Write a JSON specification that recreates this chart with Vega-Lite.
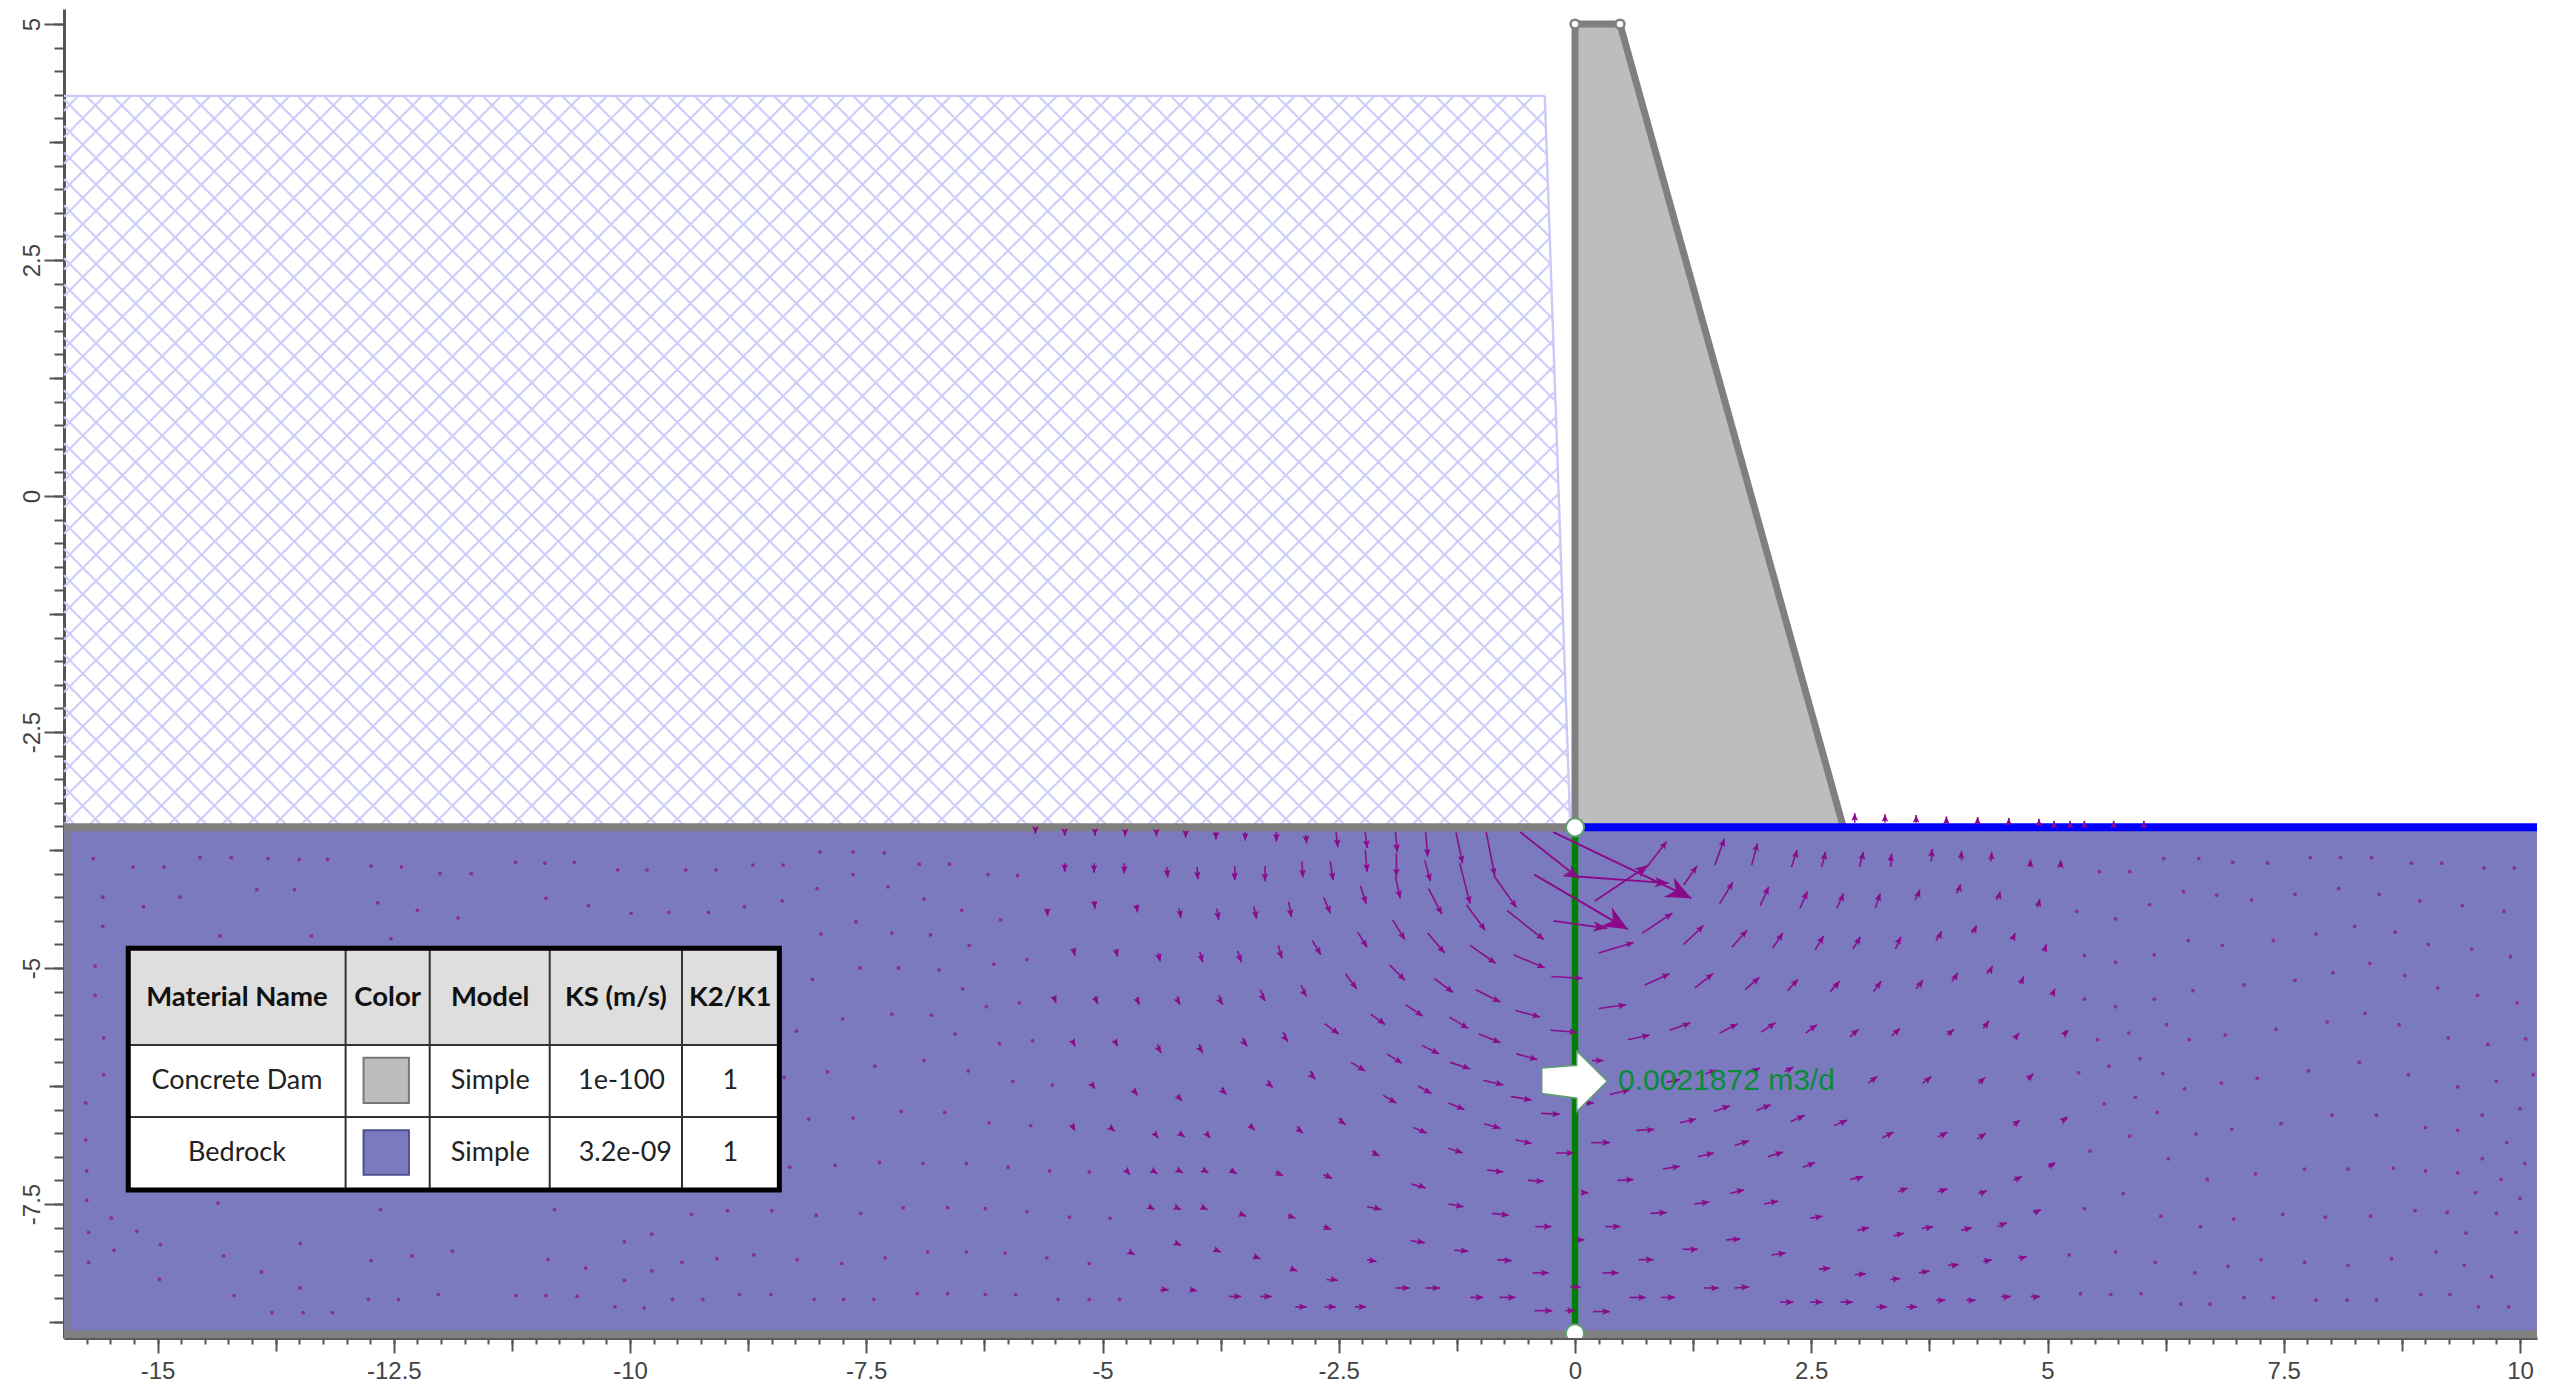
{"$schema":"https://vega.github.io/schema/vega-lite/v6.json","width":2473,"height":1329,"autosize":{"type":"none"},"padding":{"left":64,"top":9,"right":14,"bottom":50},"background":"white","config":{"view":{"stroke":null}},
"datasets":{
"bedrock":[{"x":-15.99,"x2":10.18,"y":-8.88,"y2":-3.51}],
"hatchEdge":[{"x":-15.99,"y":4.24,"x2":-0.32,"y2":4.24},{"x":-0.32,"y":4.24,"x2":-0.05,"y2":-3.5}],
"hatch":[{"x":-0.34,"y":-3.5,"x2":-0.06,"y2":-3.22},{"x":-0.62,"y":-3.5,"x2":-0.07,"y2":-2.95},{"x":-0.9,"y":-3.5,"x2":-0.08,"y2":-2.68},{"x":-1.18,"y":-3.5,"x2":-0.09,"y2":-2.41},{"x":-1.46,"y":-3.5,"x2":-0.1,"y2":-2.14},{"x":-1.74,"y":-3.5,"x2":-0.11,"y2":-1.87},{"x":-2.02,"y":-3.5,"x2":-0.12,"y2":-1.6},{"x":-2.3,"y":-3.5,"x2":-0.13,"y2":-1.33},{"x":-2.58,"y":-3.5,"x2":-0.14,"y2":-1.06},{"x":-2.86,"y":-3.5,"x2":-0.14,"y2":-0.78},{"x":-3.14,"y":-3.5,"x2":-0.15,"y2":-0.51},{"x":-3.42,"y":-3.5,"x2":-0.16,"y2":-0.24},{"x":-3.7,"y":-3.5,"x2":-0.17,"y2":0.03},{"x":-3.98,"y":-3.5,"x2":-0.18,"y2":0.3},{"x":-4.26,"y":-3.5,"x2":-0.19,"y2":0.57},{"x":-4.54,"y":-3.5,"x2":-0.2,"y2":0.84},{"x":-4.82,"y":-3.5,"x2":-0.21,"y2":1.11},{"x":-5.1,"y":-3.5,"x2":-0.22,"y2":1.38},{"x":-5.38,"y":-3.5,"x2":-0.23,"y2":1.65},{"x":-5.66,"y":-3.5,"x2":-0.24,"y2":1.92},{"x":-5.94,"y":-3.5,"x2":-0.25,"y2":2.19},{"x":-6.22,"y":-3.5,"x2":-0.26,"y2":2.46},{"x":-6.5,"y":-3.5,"x2":-0.27,"y2":2.73},{"x":-6.78,"y":-3.5,"x2":-0.28,"y2":3.0},{"x":-7.06,"y":-3.5,"x2":-0.29,"y2":3.27},{"x":-7.34,"y":-3.5,"x2":-0.3,"y2":3.54},{"x":-7.62,"y":-3.5,"x2":-0.31,"y2":3.81},{"x":-7.9,"y":-3.5,"x2":-0.31,"y2":4.09},
{"x":-8.18,"y":-3.5,"x2":-0.44,"y2":4.24},{"x":-8.46,"y":-3.5,"x2":-0.72,"y2":4.24},{"x":-8.74,"y":-3.5,"x2":-1.0,"y2":4.24},{"x":-9.02,"y":-3.5,"x2":-1.28,"y2":4.24},{"x":-9.3,"y":-3.5,"x2":-1.56,"y2":4.24},{"x":-9.58,"y":-3.5,"x2":-1.84,"y2":4.24},{"x":-9.86,"y":-3.5,"x2":-2.12,"y2":4.24},{"x":-10.14,"y":-3.5,"x2":-2.4,"y2":4.24},{"x":-10.42,"y":-3.5,"x2":-2.68,"y2":4.24},{"x":-10.7,"y":-3.5,"x2":-2.96,"y2":4.24},{"x":-10.98,"y":-3.5,"x2":-3.24,"y2":4.24},{"x":-11.26,"y":-3.5,"x2":-3.52,"y2":4.24},{"x":-11.54,"y":-3.5,"x2":-3.8,"y2":4.24},{"x":-11.82,"y":-3.5,"x2":-4.08,"y2":4.24},{"x":-12.1,"y":-3.5,"x2":-4.36,"y2":4.24},{"x":-12.38,"y":-3.5,"x2":-4.64,"y2":4.24},{"x":-12.66,"y":-3.5,"x2":-4.92,"y2":4.24},{"x":-12.94,"y":-3.5,"x2":-5.2,"y2":4.24},{"x":-13.22,"y":-3.5,"x2":-5.48,"y2":4.24},{"x":-13.5,"y":-3.5,"x2":-5.76,"y2":4.24},{"x":-13.78,"y":-3.5,"x2":-6.04,"y2":4.24},{"x":-14.06,"y":-3.5,"x2":-6.32,"y2":4.24},{"x":-14.34,"y":-3.5,"x2":-6.6,"y2":4.24},{"x":-14.62,"y":-3.5,"x2":-6.88,"y2":4.24},{"x":-14.9,"y":-3.5,"x2":-7.16,"y2":4.24},{"x":-15.18,"y":-3.5,"x2":-7.44,"y2":4.24},{"x":-15.46,"y":-3.5,"x2":-7.72,"y2":4.24},{"x":-15.74,"y":-3.5,"x2":-8.0,"y2":4.24},
{"x":-15.99,"y":-3.48,"x2":-8.28,"y2":4.24},{"x":-15.99,"y":-3.2,"x2":-8.56,"y2":4.24},{"x":-15.99,"y":-2.92,"x2":-8.84,"y2":4.24},{"x":-15.99,"y":-2.64,"x2":-9.12,"y2":4.24},{"x":-15.99,"y":-2.36,"x2":-9.4,"y2":4.24},{"x":-15.99,"y":-2.08,"x2":-9.68,"y2":4.24},{"x":-15.99,"y":-1.8,"x2":-9.96,"y2":4.24},{"x":-15.99,"y":-1.52,"x2":-10.24,"y2":4.24},{"x":-15.99,"y":-1.24,"x2":-10.52,"y2":4.24},{"x":-15.99,"y":-0.96,"x2":-10.8,"y2":4.24},{"x":-15.99,"y":-0.68,"x2":-11.08,"y2":4.24},{"x":-15.99,"y":-0.4,"x2":-11.36,"y2":4.24},{"x":-15.99,"y":-0.12,"x2":-11.64,"y2":4.24},{"x":-15.99,"y":0.16,"x2":-11.92,"y2":4.24},{"x":-15.99,"y":0.44,"x2":-12.2,"y2":4.24},{"x":-15.99,"y":0.72,"x2":-12.48,"y2":4.24},{"x":-15.99,"y":1.0,"x2":-12.76,"y2":4.24},{"x":-15.99,"y":1.28,"x2":-13.04,"y2":4.24},{"x":-15.99,"y":1.56,"x2":-13.32,"y2":4.24},{"x":-15.99,"y":1.84,"x2":-13.6,"y2":4.24},{"x":-15.99,"y":2.12,"x2":-13.88,"y2":4.24},{"x":-15.99,"y":2.4,"x2":-14.16,"y2":4.24},{"x":-15.99,"y":2.68,"x2":-14.44,"y2":4.24},{"x":-15.99,"y":2.96,"x2":-14.72,"y2":4.24},{"x":-15.99,"y":3.24,"x2":-15.0,"y2":4.24},{"x":-15.99,"y":3.52,"x2":-15.28,"y2":4.24},{"x":-15.99,"y":3.8,"x2":-15.56,"y2":4.24},{"x":-15.99,"y":4.08,"x2":-15.84,"y2":4.24},
{"x":-15.99,"y":-3.36,"x2":-15.86,"y2":-3.5},{"x":-15.99,"y":-3.08,"x2":-15.58,"y2":-3.5},{"x":-15.99,"y":-2.8,"x2":-15.3,"y2":-3.5},{"x":-15.99,"y":-2.52,"x2":-15.02,"y2":-3.5},{"x":-15.99,"y":-2.24,"x2":-14.74,"y2":-3.5},{"x":-15.99,"y":-1.96,"x2":-14.46,"y2":-3.5},{"x":-15.99,"y":-1.68,"x2":-14.18,"y2":-3.5},{"x":-15.99,"y":-1.4,"x2":-13.9,"y2":-3.5},{"x":-15.99,"y":-1.12,"x2":-13.62,"y2":-3.5},{"x":-15.99,"y":-0.84,"x2":-13.34,"y2":-3.5},{"x":-15.99,"y":-0.56,"x2":-13.06,"y2":-3.5},{"x":-15.99,"y":-0.28,"x2":-12.78,"y2":-3.5},{"x":-15.99,"y":0.0,"x2":-12.5,"y2":-3.5},{"x":-15.99,"y":0.28,"x2":-12.22,"y2":-3.5},{"x":-15.99,"y":0.56,"x2":-11.94,"y2":-3.5},{"x":-15.99,"y":0.84,"x2":-11.66,"y2":-3.5},{"x":-15.99,"y":1.12,"x2":-11.38,"y2":-3.5},{"x":-15.99,"y":1.4,"x2":-11.1,"y2":-3.5},{"x":-15.99,"y":1.68,"x2":-10.82,"y2":-3.5},{"x":-15.99,"y":1.96,"x2":-10.54,"y2":-3.5},{"x":-15.99,"y":2.24,"x2":-10.26,"y2":-3.5},{"x":-15.99,"y":2.52,"x2":-9.98,"y2":-3.5},{"x":-15.99,"y":2.8,"x2":-9.7,"y2":-3.5},{"x":-15.99,"y":3.08,"x2":-9.42,"y2":-3.5},{"x":-15.99,"y":3.36,"x2":-9.14,"y2":-3.5},{"x":-15.99,"y":3.64,"x2":-8.86,"y2":-3.5},{"x":-15.99,"y":3.92,"x2":-8.58,"y2":-3.5},{"x":-15.99,"y":4.2,"x2":-8.3,"y2":-3.5},
{"x":-15.76,"y":4.24,"x2":-8.02,"y2":-3.5},{"x":-15.48,"y":4.24,"x2":-7.74,"y2":-3.5},{"x":-15.2,"y":4.24,"x2":-7.46,"y2":-3.5},{"x":-14.92,"y":4.24,"x2":-7.18,"y2":-3.5},{"x":-14.64,"y":4.24,"x2":-6.9,"y2":-3.5},{"x":-14.36,"y":4.24,"x2":-6.62,"y2":-3.5},{"x":-14.08,"y":4.24,"x2":-6.34,"y2":-3.5},{"x":-13.8,"y":4.24,"x2":-6.06,"y2":-3.5},{"x":-13.52,"y":4.24,"x2":-5.78,"y2":-3.5},{"x":-13.24,"y":4.24,"x2":-5.5,"y2":-3.5},{"x":-12.96,"y":4.24,"x2":-5.22,"y2":-3.5},{"x":-12.68,"y":4.24,"x2":-4.94,"y2":-3.5},{"x":-12.4,"y":4.24,"x2":-4.66,"y2":-3.5},{"x":-12.12,"y":4.24,"x2":-4.38,"y2":-3.5},{"x":-11.84,"y":4.24,"x2":-4.1,"y2":-3.5},{"x":-11.56,"y":4.24,"x2":-3.82,"y2":-3.5},{"x":-11.28,"y":4.24,"x2":-3.54,"y2":-3.5},{"x":-11.0,"y":4.24,"x2":-3.26,"y2":-3.5},{"x":-10.72,"y":4.24,"x2":-2.98,"y2":-3.5},{"x":-10.44,"y":4.24,"x2":-2.7,"y2":-3.5},{"x":-10.16,"y":4.24,"x2":-2.42,"y2":-3.5},{"x":-9.88,"y":4.24,"x2":-2.14,"y2":-3.5},{"x":-9.6,"y":4.24,"x2":-1.86,"y2":-3.5},{"x":-9.32,"y":4.24,"x2":-1.58,"y2":-3.5},{"x":-9.04,"y":4.24,"x2":-1.3,"y2":-3.5},{"x":-8.76,"y":4.24,"x2":-1.02,"y2":-3.5},{"x":-8.48,"y":4.24,"x2":-0.74,"y2":-3.5},{"x":-8.2,"y":4.24,"x2":-0.46,"y2":-3.5},{"x":-7.92,"y":4.24,"x2":-0.18,"y2":-3.5},
{"x":-7.64,"y":4.24,"x2":-0.06,"y2":-3.34},{"x":-7.36,"y":4.24,"x2":-0.07,"y2":-3.05},{"x":-7.08,"y":4.24,"x2":-0.08,"y2":-2.76},{"x":-6.8,"y":4.24,"x2":-0.09,"y2":-2.47},{"x":-6.52,"y":4.24,"x2":-0.1,"y2":-2.18},{"x":-6.24,"y":4.24,"x2":-0.11,"y2":-1.89},{"x":-5.96,"y":4.24,"x2":-0.12,"y2":-1.6},{"x":-5.68,"y":4.24,"x2":-0.13,"y2":-1.31},{"x":-5.4,"y":4.24,"x2":-0.14,"y2":-1.02},{"x":-5.12,"y":4.24,"x2":-0.15,"y2":-0.73},{"x":-4.84,"y":4.24,"x2":-0.16,"y2":-0.44},{"x":-4.56,"y":4.24,"x2":-0.17,"y2":-0.15},{"x":-4.28,"y":4.24,"x2":-0.18,"y2":0.14},{"x":-4.0,"y":4.24,"x2":-0.19,"y2":0.43},{"x":-3.72,"y":4.24,"x2":-0.2,"y2":0.72},{"x":-3.44,"y":4.24,"x2":-0.21,"y2":1.01},{"x":-3.16,"y":4.24,"x2":-0.22,"y2":1.3},{"x":-2.88,"y":4.24,"x2":-0.23,"y2":1.59},{"x":-2.6,"y":4.24,"x2":-0.24,"y2":1.88},{"x":-2.32,"y":4.24,"x2":-0.25,"y2":2.17},{"x":-2.04,"y":4.24,"x2":-0.26,"y2":2.46},{"x":-1.76,"y":4.24,"x2":-0.27,"y2":2.75},{"x":-1.48,"y":4.24,"x2":-0.28,"y2":3.04},{"x":-1.2,"y":4.24,"x2":-0.29,"y2":3.33},{"x":-0.92,"y":4.24,"x2":-0.3,"y2":3.62},{"x":-0.64,"y":4.24,"x2":-0.31,"y2":3.91}],
"damFill":[{"x":0,"y":5,"y2":-3.51},{"x":0.476,"y":5,"y2":-3.51},{"x":2.84,"y":-3.51,"y2":-3.51}],
"damEdge":[{"x":0,"y":-3.51,"o":1},{"x":0,"y":5,"o":2},{"x":0.476,"y":5,"o":3},{"x":2.84,"y":-3.51,"o":4}],
"grayLines":[{"x":-15.99,"y":-3.51,"x2":0,"y2":-3.51},{"x":-15.99,"y":-8.88,"x2":10.18,"y2":-8.88}],
"grayLeft":[{"x":-15.96,"y":-3.51,"x2":-15.96,"y2":-8.9}],
"blueLine":[{"x":0,"y":-3.51,"x2":10.18,"y2":-3.51}],
"greenLine":[{"x":0,"y":-3.51,"x2":0,"y2":-8.87}],
"flowArrow":[{"x":-0.352,"y":-6.06,"y2":-6.33},{"x":0.018,"y":-6.03,"y2":-6.38},{"x":0.019,"y":-5.88,"y2":-6.52},{"x":0.342,"y":-6.2,"y2":-6.2}],
"flowLabel":[{"x":0.455,"y":-6.2,"label":"0.0021872 m3/d"}],
"nodesBig":[{"x":0,"y":-3.51},{"x":0,"y":-8.87}],
"nodesSmall":[{"x":0,"y":5},{"x":0.476,"y":5}],
"tableHead":[{"x":-15.31,"x2":-8.42,"y":-4.79,"y2":-5.816}],
"tableBody":[{"x":-15.31,"x2":-8.42,"y":-5.816,"y2":-7.352}],
"tableBox":[{"x":-15.31,"x2":-8.42,"y":-4.79,"y2":-7.352}],
"tableLines":[{"x":-13.01,"y":-4.79,"x2":-13.01,"y2":-7.352},{"x":-12.12,"y":-4.79,"x2":-12.12,"y2":-7.352},{"x":-10.85,"y":-4.79,"x2":-10.85,"y2":-7.352},{"x":-9.45,"y":-4.79,"x2":-9.45,"y2":-7.352},{"x":-15.31,"y":-5.816,"x2":-8.42,"y2":-5.816},{"x":-15.31,"y":-6.578,"x2":-8.42,"y2":-6.578}],
"swatchDam":[{"x":-12.82,"x2":-12.34,"y":-5.95,"y2":-6.43}],
"swatchRock":[{"x":-12.82,"x2":-12.34,"y":-6.72,"y2":-7.19}],
"tableHeadText":[{"x":-14.16,"y":-5.32,"label":"Material Name"},{"x":-12.565,"y":-5.32,"label":"Color"},{"x":-11.48,"y":-5.32,"label":"Model"},{"x":-10.15,"y":-5.32,"label":"KS (m/s)"},{"x":-8.94,"y":-5.32,"label":"K2/K1"}],
"tableBodyText":[{"x":-14.16,"y":-6.2,"label":"Concrete Dam"},{"x":-11.48,"y":-6.2,"label":"Simple"},{"x":-10.09,"y":-6.2,"label":"1e-100"},{"x":-8.94,"y":-6.2,"label":"1"},{"x":-14.16,"y":-6.96,"label":"Bedrock"},{"x":-11.48,"y":-6.96,"label":"Simple"},{"x":-10.05,"y":-6.96,"label":"3.2e-09"},{"x":-8.94,"y":-6.96,"label":"1"}],
"bigArrows":[{"x":-0.43,"y":-4.01,"x2":0.56,"y2":-4.59,"dir":120},{"x":-0.23,"y":-3.56,"x2":1.23,"y2":-4.26,"dir":116}],
"midArrows":[{"x":-0.58,"y":-3.56,"x2":0.04,"y2":-4.05,"dir":129},{"x":-0.23,"y":-4.5,"x2":0.34,"y2":-4.58,"dir":98},{"x":-0.12,"y":-4.02,"x2":0.99,"y2":-4.1,"dir":94},{"x":0.21,"y":-4.29,"x2":0.78,"y2":-3.91,"dir":56}],
"vectors":[{"x":-1.9,"y":-3.56,"x2":-1.88,"y2":-3.77,"dir":173},{"x":-1.89,"y":-3.78,"x2":-1.89,"y2":-4.03,"dir":180},{"x":-1.9,"y":-4.03,"x2":-1.85,"y2":-4.26,"dir":167},{"x":-1.58,"y":-3.56,"x2":-1.56,"y2":-3.82,"dir":177},{"x":-1.59,"y":-3.86,"x2":-1.53,"y2":-4.08,"dir":165},{"x":-1.55,"y":-4.16,"x2":-1.41,"y2":-4.43,"dir":153},{"x":-1.26,"y":-3.56,"x2":-1.19,"y2":-3.89,"dir":168},{"x":-1.22,"y":-3.89,"x2":-1.11,"y2":-4.32,"dir":166},{"x":-1.15,"y":-4.33,"x2":-0.95,"y2":-4.6,"dir":144},{"x":-0.94,"y":-3.56,"x2":-0.85,"y2":-4.02,"dir":168},{"x":-0.86,"y":-4.02,"x2":-0.62,"y2":-4.36,"dir":145},{"x":-0.72,"y":-4.39,"x2":-0.33,"y2":-4.7,"dir":129},{"x":-2.22,"y":-3.56,"x2":-2.2,"y2":-3.73,"dir":174},{"x":-2.22,"y":-3.75,"x2":-2.2,"y2":-3.98,"dir":176},{"x":-2.53,"y":-3.56,"x2":-2.51,"y2":-3.72,"dir":175},{"x":-2.85,"y":-3.59,"x2":-2.84,"y2":-3.68,"dir":175},{"x":-2.59,"y":-3.87,"x2":-2.56,"y2":-4.07,"dir":172},{"x":-2.27,"y":-4.13,"x2":-2.21,"y2":-4.32,"dir":163},{"x":-2.66,"y":-4.25,"x2":-2.59,"y2":-4.42,"dir":160},{"x":-1.93,"y":-4.49,"x2":-1.8,"y2":-4.7,"dir":148},{"x":-2.3,"y":-4.62,"x2":-2.2,"y2":-4.78,"dir":148},{"x":-2.78,"y":-4.71,"x2":-2.69,"y2":-4.86,"dir":150},{"x":-1.56,"y":-4.63,"x2":-1.38,"y2":-4.84,"dir":138},{"x":-1.11,"y":-4.76,"x2":-0.84,"y2":-4.95,"dir":125},{"x":-0.65,"y":-4.86,"x2":-0.32,"y2":-5.0,"dir":113},{"x":-0.25,"y":-5.09,"x2":0.08,"y2":-5.11,"dir":95},{"x":-1.96,"y":-4.97,"x2":-1.8,"y2":-5.13,"dir":135},{"x":-2.43,"y":-5.06,"x2":-2.31,"y2":-5.22,"dir":142},{"x":-1.49,"y":-5.11,"x2":-1.29,"y2":-5.26,"dir":127},{"x":-1.05,"y":-5.23,"x2":-0.79,"y2":-5.36,"dir":115},{"x":-1.79,"y":-5.39,"x2":-1.61,"y2":-5.51,"dir":123},{"x":-2.16,"y":-5.49,"x2":-2.01,"y2":-5.6,"dir":128},{"x":-1.33,"y":-5.52,"x2":-1.13,"y2":-5.64,"dir":120},{"x":-0.63,"y":-5.45,"x2":-0.37,"y2":-5.52,"dir":105},{"x":-2.65,"y":-5.59,"x2":-2.5,"y2":-5.7,"dir":127},{"x":-1.02,"y":-5.7,"x2":-0.79,"y2":-5.79,"dir":111},{"x":-0.26,"y":-5.66,"x2":0.02,"y2":-5.68,"dir":94},{"x":-1.62,"y":-5.82,"x2":-1.44,"y2":-5.91,"dir":118},{"x":-1.99,"y":-5.91,"x2":-1.83,"y2":-6.01,"dir":122},{"x":-0.62,"y":-5.91,"x2":-0.4,"y2":-5.97,"dir":104},{"x":-2.37,"y":-6.0,"x2":-2.22,"y2":-6.09,"dir":120},{"x":-1.32,"y":-6.0,"x2":-1.11,"y2":-6.07,"dir":111},
{"x":0.76,"y":-3.93,"x2":0.97,"y2":-3.66,"dir":38},{"x":1.15,"y":-4.12,"x2":1.29,"y2":-3.92,"dir":36},{"x":1.48,"y":-3.91,"x2":1.58,"y2":-3.63,"dir":18},{"x":1.87,"y":-3.91,"x2":1.93,"y2":-3.68,"dir":15},{"x":2.29,"y":-3.93,"x2":2.35,"y2":-3.75,"dir":15},{"x":1.53,"y":-4.32,"x2":1.67,"y2":-4.09,"dir":30},{"x":1.96,"y":-4.34,"x2":2.05,"y2":-4.14,"dir":25},{"x":0.71,"y":-4.63,"x2":1.03,"y2":-4.42,"dir":57},{"x":1.15,"y":-4.75,"x2":1.36,"y2":-4.55,"dir":46},{"x":1.66,"y":-4.78,"x2":1.82,"y2":-4.6,"dir":42},{"x":2.09,"y":-4.79,"x2":2.2,"y2":-4.63,"dir":35},{"x":0.25,"y":-4.84,"x2":0.62,"y2":-4.73,"dir":74},{"x":0.74,"y":-5.18,"x2":1.0,"y2":-5.06,"dir":65},{"x":1.27,"y":-5.21,"x2":1.46,"y2":-5.06,"dir":53},{"x":1.8,"y":-5.23,"x2":1.95,"y2":-5.1,"dir":48},{"x":2.25,"y":-5.24,"x2":2.36,"y2":-5.12,"dir":43},{"x":0.25,"y":-5.43,"x2":0.54,"y2":-5.39,"dir":82},{"x":0.56,"y":-5.76,"x2":0.79,"y2":-5.71,"dir":77},{"x":1.0,"y":-5.66,"x2":1.22,"y2":-5.58,"dir":67},{"x":1.53,"y":-5.69,"x2":1.72,"y2":-5.59,"dir":62},{"x":1.97,"y":-5.68,"x2":2.12,"y2":-5.58,"dir":55},
{"x":-5.71,"y":-3.556,"x2":-5.71,"y2":-3.58,"dir":180},{"x":-5.4,"y":-3.556,"x2":-5.4,"y2":-3.6,"dir":180},{"x":-5.08,"y":-3.556,"x2":-5.08,"y2":-3.6,"dir":180},{"x":-4.76,"y":-3.556,"x2":-4.76,"y2":-3.605,"dir":180},{"x":-4.43,"y":-3.556,"x2":-4.43,"y2":-3.605,"dir":180},{"x":-4.12,"y":-3.556,"x2":-4.12,"y2":-3.62,"dir":180},{"x":-3.8,"y":-3.556,"x2":-3.8,"y2":-3.64,"dir":180},{"x":-3.49,"y":-3.556,"x2":-3.49,"y2":-3.65,"dir":180},{"x":-3.16,"y":-3.556,"x2":-3.16,"y2":-3.66,"dir":180},
{"x":-5.4,"y":-3.89,"x2":-5.4,"y2":-3.98,"dir":180},{"x":-5.09,"y":-3.89,"x2":-5.09,"y2":-3.99,"dir":180},{"x":-4.77,"y":-3.89,"x2":-4.77,"y2":-4.0,"dir":180},{"x":-4.32,"y":-3.93,"x2":-4.31,"y2":-4.04,"dir":175},{"x":-4.0,"y":-3.93,"x2":-3.99,"y2":-4.06,"dir":175},{"x":-3.6,"y":-3.92,"x2":-3.6,"y2":-4.07,"dir":178},{"x":-3.28,"y":-3.92,"x2":-3.28,"y2":-4.08,"dir":178},{"x":-2.89,"y":-3.87,"x2":-2.88,"y2":-4.04,"dir":178},
{"x":-5.09,"y":-4.29,"x2":-5.08,"y2":-4.37,"dir":175},{"x":-4.64,"y":-4.33,"x2":-4.63,"y2":-4.41,"dir":172},{"x":-4.19,"y":-4.37,"x2":-4.17,"y2":-4.47,"dir":170},{"x":-3.79,"y":-4.37,"x2":-3.77,"y2":-4.49,"dir":170},{"x":-3.4,"y":-4.35,"x2":-3.37,"y2":-4.48,"dir":170},{"x":-3.03,"y":-4.3,"x2":-3.0,"y2":-4.46,"dir":168},{"x":-5.59,"y":-4.37,"x2":-5.58,"y2":-4.45,"dir":175},
{"x":-5.31,"y":-4.79,"x2":-5.29,"y2":-4.87,"dir":165},{"x":-4.86,"y":-4.8,"x2":-4.84,"y2":-4.88,"dir":165},{"x":-4.41,"y":-4.84,"x2":-4.39,"y2":-4.93,"dir":165},{"x":-3.97,"y":-4.83,"x2":-3.94,"y2":-4.94,"dir":163},{"x":-3.57,"y":-4.82,"x2":-3.53,"y2":-4.94,"dir":160},{"x":-3.14,"y":-4.76,"x2":-3.1,"y2":-4.9,"dir":160},
{"x":-5.52,"y":-5.3,"x2":-5.49,"y2":-5.37,"dir":158},{"x":-5.08,"y":-5.3,"x2":-5.05,"y2":-5.38,"dir":155},{"x":-4.64,"y":-5.31,"x2":-4.61,"y2":-5.39,"dir":155},{"x":-4.21,"y":-5.3,"x2":-4.18,"y2":-5.39,"dir":152},{"x":-3.77,"y":-5.29,"x2":-3.73,"y2":-5.39,"dir":150},{"x":-3.33,"y":-5.23,"x2":-3.28,"y2":-5.35,"dir":148},{"x":-2.9,"y":-5.18,"x2":-2.84,"y2":-5.3,"dir":145},
{"x":-3.09,"y":-5.68,"x2":-3.04,"y2":-5.78,"dir":143},{"x":-3.52,"y":-5.74,"x2":-3.47,"y2":-5.83,"dir":143},{"x":-3.98,"y":-5.81,"x2":-3.94,"y2":-5.9,"dir":148},{"x":-4.42,"y":-5.81,"x2":-4.38,"y2":-5.9,"dir":150},{"x":-4.87,"y":-5.77,"x2":-4.84,"y2":-5.83,"dir":153},{"x":-5.32,"y":-5.77,"x2":-5.29,"y2":-5.83,"dir":153},
{"x":-2.8,"y":-6.09,"x2":-2.75,"y2":-6.18,"dir":138},{"x":-3.25,"y":-6.19,"x2":-3.2,"y2":-6.27,"dir":135},{"x":-3.74,"y":-6.27,"x2":-3.69,"y2":-6.34,"dir":135},{"x":-4.21,"y":-6.35,"x2":-4.16,"y2":-6.41,"dir":140},{"x":-4.67,"y":-6.28,"x2":-4.63,"y2":-6.35,"dir":143},{"x":-5.12,"y":-6.23,"x2":-5.08,"y2":-6.28,"dir":145},{"x":-2.03,"y":-6.35,"x2":-1.89,"y2":-6.43,"dir":118},{"x":-1.66,"y":-6.25,"x2":-1.52,"y2":-6.33,"dir":118},{"x":-1.34,"y":-6.43,"x2":-1.17,"y2":-6.5,"dir":112},{"x":-0.97,"y":-6.19,"x2":-0.76,"y2":-6.24,"dir":105},{"x":-0.68,"y":-6.36,"x2":-0.46,"y2":-6.4,"dir":100},{"x":-0.36,"y":-6.54,"x2":-0.16,"y2":-6.55,"dir":92},
{"x":-5.33,"y":-6.68,"x2":-5.29,"y2":-6.72,"dir":150},{"x":-4.91,"y":-6.7,"x2":-4.87,"y2":-6.73,"dir":130},{"x":-4.45,"y":-6.75,"x2":-4.41,"y2":-6.8,"dir":140},{"x":-4.19,"y":-6.75,"x2":-4.13,"y2":-6.79,"dir":125},{"x":-3.9,"y":-6.75,"x2":-3.86,"y2":-6.8,"dir":140},{"x":-3.44,"y":-6.66,"x2":-3.39,"y2":-6.72,"dir":135},{"x":-2.94,"y":-6.68,"x2":-2.88,"y2":-6.75,"dir":130},{"x":-2.5,"y":-6.59,"x2":-2.43,"y2":-6.66,"dir":128},{"x":-2.15,"y":-6.94,"x2":-2.07,"y2":-6.99,"dir":115},{"x":-1.71,"y":-6.69,"x2":-1.57,"y2":-6.75,"dir":115},{"x":-1.34,"y":-6.91,"x2":-1.19,"y2":-6.96,"dir":110},{"x":-0.96,"y":-6.65,"x2":-0.79,"y2":-6.7,"dir":108},{"x":-0.63,"y":-6.82,"x2":-0.46,"y2":-6.86,"dir":102},{"x":-0.2,"y":-6.96,"x2":-0.01,"y2":-6.96,"dir":90},{"x":-0.93,"y":-7.14,"x2":-0.76,"y2":-7.16,"dir":95},{"x":-0.5,"y":-7.25,"x2":-0.33,"y2":-7.26,"dir":92},{"x":-1.73,"y":-7.29,"x2":-1.58,"y2":-7.33,"dir":110},{"x":-2.2,"y":-7.53,"x2":-2.05,"y2":-7.56,"dir":105},{"x":-2.66,"y":-7.19,"x2":-2.57,"y2":-7.23,"dir":115},{"x":-3.17,"y":-7.16,"x2":-3.09,"y2":-7.2,"dir":115},{"x":-3.65,"y":-7.14,"x2":-3.58,"y2":-7.18,"dir":120},{"x":-3.93,"y":-7.14,"x2":-3.88,"y2":-7.17,"dir":120},{"x":-4.2,"y":-7.14,"x2":-4.15,"y2":-7.17,"dir":120},{"x":-4.47,"y":-7.15,"x2":-4.42,"y2":-7.18,"dir":125},{"x":-4.74,"y":-7.15,"x2":-4.71,"y2":-7.19,"dir":140},{"x":-1.34,"y":-7.5,"x2":-1.18,"y2":-7.53,"dir":100},{"x":-0.88,"y":-7.6,"x2":-0.7,"y2":-7.62,"dir":96},{"x":-0.42,"y":-7.74,"x2":-0.25,"y2":-7.74,"dir":90},{"x":-4.5,"y":-7.54,"x2":-4.45,"y2":-7.56,"dir":120},{"x":-4.22,"y":-7.54,"x2":-4.17,"y2":-7.56,"dir":115},{"x":-3.94,"y":-7.53,"x2":-3.89,"y2":-7.56,"dir":115},{"x":-3.55,"y":-7.6,"x2":-3.48,"y2":-7.63,"dir":112},{"x":-3.04,"y":-7.62,"x2":-2.96,"y2":-7.65,"dir":110},{"x":-2.66,"y":-7.74,"x2":-2.58,"y2":-7.77,"dir":110},{"x":-1.74,"y":-7.89,"x2":-1.59,"y2":-7.91,"dir":100},{"x":-1.28,"y":-7.99,"x2":-1.13,"y2":-8.0,"dir":95},{"x":-0.82,"y":-8.09,"x2":-0.67,"y2":-8.1,"dir":92},{"x":-0.45,"y":-8.23,"x2":-0.28,"y2":-8.23,"dir":90},{"x":-2.2,"y":-8.09,"x2":-2.1,"y2":-8.11,"dir":100},{"x":-4.22,"y":-7.92,"x2":-4.17,"y2":-7.94,"dir":115},{"x":-3.82,"y":-7.99,"x2":-3.75,"y2":-8.01,"dir":115},{"x":-3.4,"y":-8.06,"x2":-3.33,"y2":-8.08,"dir":110},{"x":-3.01,"y":-8.18,"x2":-2.94,"y2":-8.21,"dir":110},{"x":-2.63,"y":-8.3,"x2":-2.51,"y2":-8.31,"dir":100},{"x":-4.71,"y":-8.01,"x2":-4.66,"y2":-8.04,"dir":120},{"x":-1.9,"y":-8.39,"x2":-1.75,"y2":-8.39,"dir":90},{"x":-1.58,"y":-8.39,"x2":-1.43,"y2":-8.39,"dir":90},{"x":-1.11,"y":-8.49,"x2":-0.97,"y2":-8.49,"dir":90},{"x":-0.8,"y":-8.49,"x2":-0.63,"y2":-8.49,"dir":90},{"x":-0.43,"y":-8.63,"x2":-0.24,"y2":-8.63,"dir":90},{"x":-0.1,"y":-8.63,"x2":0.0,"y2":-8.63,"dir":90},{"x":-4.39,"y":-8.41,"x2":-4.3,"y2":-8.41,"dir":95},{"x":-4.07,"y":-8.41,"x2":-4.0,"y2":-8.42,"dir":100},{"x":-3.66,"y":-8.48,"x2":-3.53,"y2":-8.48,"dir":90},{"x":-3.33,"y":-8.48,"x2":-3.21,"y2":-8.48,"dir":90},{"x":-2.96,"y":-8.59,"x2":-2.84,"y2":-8.59,"dir":90},{"x":-2.65,"y":-8.59,"x2":-2.53,"y2":-8.59,"dir":90},{"x":-2.33,"y":-8.59,"x2":-2.21,"y2":-8.59,"dir":90},
{"x":2.96,"y":-3.46,"x2":2.96,"y2":-3.36,"dir":0},{"x":3.28,"y":-3.46,"x2":3.28,"y2":-3.37,"dir":0},{"x":3.61,"y":-3.46,"x2":3.61,"y2":-3.38,"dir":0},{"x":3.93,"y":-3.46,"x2":3.93,"y2":-3.395,"dir":0},{"x":4.26,"y":-3.46,"x2":4.26,"y2":-3.4,"dir":0},{"x":4.59,"y":-3.46,"x2":4.59,"y2":-3.41,"dir":0},{"x":4.91,"y":-3.46,"x2":4.91,"y2":-3.42,"dir":0},{"x":5.24,"y":-3.46,"x2":5.24,"y2":-3.44,"dir":0},{"x":5.07,"y":-3.46,"x2":5.07,"y2":-3.44,"dir":0},{"x":5.39,"y":-3.46,"x2":5.39,"y2":-3.44,"dir":0},{"x":5.7,"y":-3.46,"x2":5.7,"y2":-3.44,"dir":0},{"x":6.02,"y":-3.46,"x2":6.02,"y2":-3.44,"dir":0},
{"x":0.18,"y":-5.98,"x2":0.3,"y2":-5.98,"dir":90},{"x":0.97,"y":-6.21,"x2":1.11,"y2":-6.18,"dir":75},{"x":1.38,"y":-6.12,"x2":1.5,"y2":-6.08,"dir":70},{"x":1.82,"y":-6.1,"x2":1.96,"y2":-6.06,"dir":65},{"x":2.22,"y":-6.1,"x2":2.31,"y2":-6.05,"dir":60},{"x":3.1,"y":-6.22,"x2":3.2,"y2":-6.15,"dir":55},{"x":3.68,"y":-6.22,"x2":3.77,"y2":-6.15,"dir":50},{"x":4.27,"y":-6.22,"x2":4.34,"y2":-6.16,"dir":48},{"x":4.79,"y":-6.18,"x2":4.85,"y2":-6.12,"dir":45},{"x":2.44,"y":-5.69,"x2":2.56,"y2":-5.6,"dir":55},{"x":2.91,"y":-5.73,"x2":3.0,"y2":-5.65,"dir":50},{"x":3.35,"y":-5.72,"x2":3.44,"y2":-5.64,"dir":48},{"x":3.94,"y":-5.71,"x2":4.01,"y2":-5.65,"dir":50},{"x":4.32,"y":-5.64,"x2":4.38,"y2":-5.56,"dir":35},{"x":4.65,"y":-5.75,"x2":4.7,"y2":-5.69,"dir":40},{"x":5.17,"y":-5.7,"x2":5.22,"y2":-5.66,"dir":45},{"x":2.7,"y":-5.25,"x2":2.8,"y2":-5.14,"dir":40},{"x":3.16,"y":-5.25,"x2":3.24,"y2":-5.14,"dir":35},{"x":3.61,"y":-5.22,"x2":3.68,"y2":-5.13,"dir":35},{"x":3.99,"y":-5.14,"x2":4.05,"y2":-5.05,"dir":30},{"x":4.36,"y":-5.06,"x2":4.42,"y2":-4.98,"dir":30},{"x":4.71,"y":-5.17,"x2":4.75,"y2":-5.09,"dir":25},{"x":5.05,"y":-5.29,"x2":5.08,"y2":-5.22,"dir":25},{"x":2.54,"y":-4.81,"x2":2.63,"y2":-4.66,"dir":30},{"x":2.94,"y":-4.8,"x2":3.02,"y2":-4.67,"dir":30},{"x":3.39,"y":-4.8,"x2":3.45,"y2":-4.67,"dir":28},{"x":3.82,"y":-4.71,"x2":3.88,"y2":-4.61,"dir":25},{"x":4.2,"y":-4.63,"x2":4.25,"y2":-4.55,"dir":25},{"x":4.62,"y":-4.7,"x2":4.66,"y2":-4.63,"dir":25},{"x":4.96,"y":-4.82,"x2":4.99,"y2":-4.75,"dir":20},{"x":2.38,"y":-4.37,"x2":2.46,"y2":-4.19,"dir":25},{"x":2.77,"y":-4.37,"x2":2.84,"y2":-4.21,"dir":20},{"x":3.18,"y":-4.36,"x2":3.23,"y2":-4.21,"dir":20},{"x":3.6,"y":-4.28,"x2":3.65,"y2":-4.17,"dir":20},{"x":4.04,"y":-4.21,"x2":4.08,"y2":-4.11,"dir":15},{"x":4.46,"y":-4.28,"x2":4.5,"y2":-4.19,"dir":15},{"x":4.89,"y":-4.36,"x2":4.92,"y2":-4.27,"dir":15},{"x":2.61,"y":-3.93,"x2":2.65,"y2":-3.77,"dir":12},{"x":3.01,"y":-3.93,"x2":3.05,"y2":-3.77,"dir":10},{"x":3.34,"y":-3.93,"x2":3.35,"y2":-3.79,"dir":8},{"x":3.77,"y":-3.87,"x2":3.78,"y2":-3.74,"dir":5},{"x":4.09,"y":-3.86,"x2":4.09,"y2":-3.76,"dir":3},{"x":4.4,"y":-3.87,"x2":4.41,"y2":-3.77,"dir":3},{"x":4.82,"y":-3.93,"x2":4.82,"y2":-3.85,"dir":3},{"x":5.13,"y":-3.92,"x2":5.14,"y2":-3.86,"dir":3},
{"x":0.37,"y":-6.34,"x2":0.58,"y2":-6.29,"dir":75},{"x":0.02,"y":-6.43,"x2":0.2,"y2":-6.43,"dir":90},{"x":0.65,"y":-6.72,"x2":0.84,"y2":-6.71,"dir":85},{"x":1.11,"y":-6.64,"x2":1.28,"y2":-6.6,"dir":75},{"x":1.47,"y":-6.52,"x2":1.64,"y2":-6.46,"dir":72},{"x":1.92,"y":-6.51,"x2":2.07,"y2":-6.45,"dir":68},{"x":2.28,"y":-6.63,"x2":2.43,"y2":-6.56,"dir":65},{"x":2.74,"y":-6.67,"x2":2.88,"y2":-6.61,"dir":65},{"x":3.25,"y":-6.8,"x2":3.37,"y2":-6.74,"dir":65},{"x":3.84,"y":-6.79,"x2":3.94,"y2":-6.74,"dir":62},{"x":4.26,"y":-6.81,"x2":4.35,"y2":-6.75,"dir":58},{"x":4.64,"y":-6.67,"x2":4.71,"y2":-6.61,"dir":52},{"x":5.15,"y":-6.61,"x2":5.21,"y2":-6.58,"dir":55},{"x":0.17,"y":-6.85,"x2":0.37,"y2":-6.85,"dir":90},{"x":0.93,"y":-7.13,"x2":1.11,"y2":-7.1,"dir":80},{"x":1.3,"y":-7.0,"x2":1.47,"y2":-6.96,"dir":78},{"x":1.69,"y":-6.88,"x2":1.84,"y2":-6.83,"dir":72},{"x":2.04,"y":-7.0,"x2":2.2,"y2":-6.95,"dir":72},{"x":2.41,"y":-7.11,"x2":2.54,"y2":-7.06,"dir":68},{"x":2.91,"y":-7.24,"x2":3.05,"y2":-7.21,"dir":72},{"x":3.42,"y":-7.37,"x2":3.52,"y2":-7.33,"dir":70},{"x":3.84,"y":-7.37,"x2":3.94,"y2":-7.34,"dir":72},{"x":4.27,"y":-7.39,"x2":4.36,"y2":-7.36,"dir":68},{"x":4.64,"y":-7.25,"x2":4.73,"y2":-7.21,"dir":65},{"x":5.01,"y":-7.11,"x2":5.08,"y2":-7.06,"dir":55},{"x":0.45,"y":-7.25,"x2":0.62,"y2":-7.24,"dir":87},{"x":0.07,"y":-7.38,"x2":0.14,"y2":-7.38,"dir":90},{"x":0.8,"y":-7.6,"x2":0.97,"y2":-7.59,"dir":87},{"x":1.26,"y":-7.5,"x2":1.42,"y2":-7.48,"dir":83},{"x":1.64,"y":-7.39,"x2":1.79,"y2":-7.35,"dir":78},{"x":2.0,"y":-7.5,"x2":2.15,"y2":-7.47,"dir":80},{"x":2.49,"y":-7.65,"x2":2.62,"y2":-7.63,"dir":80},{"x":2.99,"y":-7.78,"x2":3.11,"y2":-7.75,"dir":78},{"x":3.37,"y":-7.84,"x2":3.48,"y2":-7.81,"dir":78},{"x":3.67,"y":-7.76,"x2":3.79,"y2":-7.74,"dir":78},{"x":4.09,"y":-7.78,"x2":4.2,"y2":-7.75,"dir":75},{"x":4.47,"y":-7.74,"x2":4.57,"y2":-7.7,"dir":70},{"x":4.85,"y":-7.59,"x2":4.93,"y2":-7.56,"dir":65},{"x":0.32,"y":-7.74,"x2":0.48,"y2":-7.74,"dir":90},{"x":0.02,"y":-7.88,"x2":0.1,"y2":-7.88,"dir":90},{"x":0.67,"y":-8.09,"x2":0.83,"y2":-8.09,"dir":90},{"x":1.14,"y":-7.98,"x2":1.3,"y2":-7.98,"dir":87},{"x":1.6,"y":-7.88,"x2":1.75,"y2":-7.87,"dir":85},{"x":2.08,"y":-8.04,"x2":2.23,"y2":-8.02,"dir":83},{"x":2.58,"y":-8.19,"x2":2.7,"y2":-8.18,"dir":85},{"x":2.96,"y":-8.25,"x2":3.08,"y2":-8.24,"dir":85},{"x":3.34,"y":-8.3,"x2":3.44,"y2":-8.29,"dir":85},{"x":3.64,"y":-8.23,"x2":3.75,"y2":-8.21,"dir":80},{"x":3.95,"y":-8.15,"x2":4.06,"y2":-8.14,"dir":80},{"x":4.32,"y":-8.11,"x2":4.41,"y2":-8.09,"dir":78},{"x":4.69,"y":-8.07,"x2":4.78,"y2":-8.06,"dir":78},{"x":0.29,"y":-8.23,"x2":0.46,"y2":-8.23,"dir":90},{"x":1.36,"y":-8.39,"x2":1.52,"y2":-8.39,"dir":88},{"x":1.69,"y":-8.39,"x2":1.84,"y2":-8.38,"dir":88},{"x":0.58,"y":-8.49,"x2":0.75,"y2":-8.49,"dir":90},{"x":0.91,"y":-8.49,"x2":1.06,"y2":-8.49,"dir":90},{"x":2.17,"y":-8.54,"x2":2.31,"y2":-8.54,"dir":90},{"x":2.49,"y":-8.54,"x2":2.62,"y2":-8.54,"dir":90},{"x":2.81,"y":-8.54,"x2":2.94,"y2":-8.54,"dir":90},{"x":3.19,"y":-8.59,"x2":3.3,"y2":-8.59,"dir":90},{"x":3.51,"y":-8.59,"x2":3.62,"y2":-8.59,"dir":90},{"x":3.82,"y":-8.52,"x2":3.92,"y2":-8.52,"dir":88},{"x":4.14,"y":-8.52,"x2":4.24,"y2":-8.52,"dir":88},{"x":4.51,"y":-8.48,"x2":4.61,"y2":-8.48,"dir":85},{"x":4.82,"y":-8.48,"x2":4.92,"y2":-8.48,"dir":85},{"x":0.19,"y":-8.64,"x2":0.37,"y2":-8.64,"dir":90},{"x":-0.05,"y":-8.38,"x2":0.06,"y2":-8.38,"dir":90}],
"dots":[{"x":-15.68,"y":-3.84},{"x":-14.55,"y":-3.83},{"x":-14.22,"y":-3.83},{"x":-13.83,"y":-3.84},{"x":-13.5,"y":-3.85},{"x":-13.2,"y":-3.85},{"x":-15.26,"y":-3.93},{"x":-14.93,"y":-3.93},{"x":-12.74,"y":-3.92},{"x":-12.42,"y":-3.93},{"x":-12.01,"y":-4.0},{"x":-11.68,"y":-4.0},{"x":-11.21,"y":-3.88},{"x":-10.9,"y":-3.89},{"x":-10.59,"y":-3.88},{"x":-10.13,"y":-3.96},{"x":-9.82,"y":-3.96},{"x":-9.41,"y":-3.96},{"x":-9.09,"y":-3.96},{"x":-8.7,"y":-3.91},{"x":-8.38,"y":-3.91},{"x":-13.95,"y":-4.17},{"x":-13.55,"y":-4.17},{"x":-15.58,"y":-4.25},{"x":-14.76,"y":-4.25},{"x":-15.15,"y":-4.35},{"x":-12.67,"y":-4.31},{"x":-12.25,"y":-4.39},{"x":-11.82,"y":-4.47},{"x":-10.89,"y":-4.26},{"x":-10.44,"y":-4.34},{"x":-9.99,"y":-4.42},{"x":-9.59,"y":-4.41},{"x":-9.17,"y":-4.41},{"x":-8.79,"y":-4.35},{"x":-8.39,"y":-4.29},{"x":-15.58,"y":-4.56},{"x":-14.34,"y":-4.66},{"x":-13.37,"y":-4.66},{"x":-12.53,"y":-4.69},{"x":-15.66,"y":-4.98},{"x":-15.66,"y":-5.29},{"x":-8.24,"y":-5.67},{"x":-15.57,"y":-5.74},{"x":-15.57,"y":-6.13},{"x":-8.37,"y":-6.16},{"x":-15.76,"y":-6.43},{"x":-15.76,"y":-6.82},{"x":-8.31,"y":-7.11},{"x":-15.75,"y":-7.15},{"x":-15.75,"y":-7.46},{"x":-14.36,"y":-7.49},{"x":-12.64,"y":-7.56},{"x":-10.8,"y":-7.56},{"x":-9.35,"y":-7.61},{"x":-8.97,"y":-7.57},{"x":-8.5,"y":-7.57},{"x":-15.49,"y":-7.65},{"x":-15.73,"y":-7.8},{"x":-15.22,"y":-7.79},{"x":-9.77,"y":-7.82},{"x":-14.97,"y":-7.93},{"x":-13.49,"y":-7.92},{"x":-10.06,"y":-7.9},{"x":-15.46,"y":-7.99},{"x":-11.88,"y":-8.0},{"x":-14.3,"y":-8.05},{"x":-12.31,"y":-8.05},{"x":-15.73,"y":-8.12},{"x":-12.74,"y":-8.1},{"x":-10.87,"y":-8.09},{"x":-9.45,"y":-8.12},{"x":-9.08,"y":-8.08},{"x":-8.69,"y":-8.04},{"x":-13.9,"y":-8.22},{"x":-14.98,"y":-8.3},{"x":-10.47,"y":-8.18},{"x":-9.77,"y":-8.21},{"x":-10.06,"y":-8.31},{"x":-13.49,"y":-8.39},{"x":-14.19,"y":-8.47},{"x":-12.77,"y":-8.51},{"x":-12.45,"y":-8.51},{"x":-12.03,"y":-8.46},{"x":-11.21,"y":-8.47},{"x":-10.89,"y":-8.47},{"x":-10.56,"y":-8.48},{"x":-9.55,"y":-8.51},{"x":-9.23,"y":-8.51},{"x":-8.84,"y":-8.46},{"x":-8.51,"y":-8.46},{"x":-13.79,"y":-8.65},{"x":-13.46,"y":-8.65},{"x":-13.15,"y":-8.65},{"x":-10.16,"y":-8.59},{"x":-9.85,"y":-8.6},
{"x":-7.99,"y":-3.77},{"x":-7.64,"y":-3.77},{"x":-7.31,"y":-3.78},{"x":-6.94,"y":-3.9},{"x":-6.62,"y":-3.9},{"x":-7.64,"y":-4.01},{"x":-6.21,"y":-4.01},{"x":-5.9,"y":-4.02},{"x":-8.02,"y":-4.16},{"x":-7.27,"y":-4.14},{"x":-6.89,"y":-4.27},{"x":-7.61,"y":-4.51},{"x":-6.49,"y":-4.39},{"x":-7.98,"y":-4.64},{"x":-7.23,"y":-4.63},{"x":-6.82,"y":-4.65},{"x":-6.08,"y":-4.49},{"x":-6.41,"y":-4.76},{"x":-7.57,"y":-5.0},{"x":-7.16,"y":-5.0},{"x":-6.73,"y":-5.02},{"x":-8.07,"y":-5.12},{"x":-6.15,"y":-4.96},{"x":-5.8,"y":-4.91},{"x":-6.48,"y":-5.22},{"x":-6.23,"y":-5.41},{"x":-5.88,"y":-5.37},{"x":-7.75,"y":-5.54},{"x":-7.23,"y":-5.49},{"x":-6.81,"y":-5.5},{"x":-6.56,"y":-5.7},{"x":-6.09,"y":-5.8},{"x":-5.74,"y":-5.77},{"x":-6.89,"y":-5.98},{"x":-7.41,"y":-6.04},{"x":-7.91,"y":-6.1},{"x":-6.42,"y":-6.09},{"x":-5.95,"y":-6.2},{"x":-5.53,"y":-6.24},{"x":-8.11,"y":-6.6},{"x":-7.64,"y":-6.59},{"x":-7.13,"y":-6.52},{"x":-6.67,"y":-6.53},{"x":-6.2,"y":-6.64},{"x":-5.76,"y":-6.67},{"x":-7.83,"y":-7.09},{"x":-7.36,"y":-7.06},{"x":-6.9,"y":-7.07},{"x":-6.44,"y":-7.07},{"x":-6.0,"y":-7.11},{"x":-5.56,"y":-7.15},{"x":-5.14,"y":-7.16},{"x":-8.03,"y":-7.62},{"x":-7.56,"y":-7.6},{"x":-7.11,"y":-7.54},{"x":-6.64,"y":-7.54},{"x":-6.24,"y":-7.55},{"x":-5.8,"y":-7.58},{"x":-5.35,"y":-7.64},{"x":-4.92,"y":-7.65},{"x":-8.23,"y":-8.09},{"x":-7.76,"y":-8.13},{"x":-7.3,"y":-8.07},{"x":-6.85,"y":-8.01},{"x":-6.44,"y":-8.01},{"x":-6.03,"y":-8.02},{"x":-5.59,"y":-8.07},{"x":-5.14,"y":-8.13},{"x":-8.05,"y":-8.51},{"x":-7.74,"y":-8.51},{"x":-7.42,"y":-8.51},{"x":-6.96,"y":-8.45},{"x":-6.64,"y":-8.45},{"x":-6.24,"y":-8.46},{"x":-5.92,"y":-8.46},{"x":-5.47,"y":-8.51},{"x":-5.14,"y":-8.51},{"x":-4.82,"y":-8.51},
{"x":5.14,"y":-3.9},{"x":5.55,"y":-3.98},{"x":5.87,"y":-3.98},{"x":6.23,"y":-3.84},{"x":6.6,"y":-3.84},{"x":6.96,"y":-3.88},{"x":7.33,"y":-3.89},{"x":7.78,"y":-3.83},{"x":8.1,"y":-3.83},{"x":8.43,"y":-3.83},{"x":8.85,"y":-3.89},{"x":9.17,"y":-3.89},{"x":9.62,"y":-3.94},{"x":9.94,"y":-3.94},{"x":6.44,"y":-4.19},{"x":6.79,"y":-4.23},{"x":7.16,"y":-4.28},{"x":7.62,"y":-4.22},{"x":8.08,"y":-4.16},{"x":8.51,"y":-4.22},{"x":8.94,"y":-4.29},{"x":9.39,"y":-4.34},{"x":9.83,"y":-4.4},{"x":5.31,"y":-4.4},{"x":5.72,"y":-4.48},{"x":6.08,"y":-4.33},{"x":8.25,"y":-4.56},{"x":8.68,"y":-4.62},{"x":7.84,"y":-4.64},{"x":7.39,"y":-4.71},{"x":6.85,"y":-4.76},{"x":6.49,"y":-4.71},{"x":6.13,"y":-4.86},{"x":5.72,"y":-4.94},{"x":5.39,"y":-4.87},{"x":9.03,"y":-4.75},{"x":9.49,"y":-4.8},{"x":9.9,"y":-4.88},{"x":8.41,"y":-4.95},{"x":8.02,"y":-5.05},{"x":7.62,"y":-5.13},{"x":7.08,"y":-5.18},{"x":6.54,"y":-5.24},{"x":6.13,"y":-5.33},{"x":5.72,"y":-5.41},{"x":5.39,"y":-5.33},{"x":5.06,"y":-5.26},{"x":8.78,"y":-5.08},{"x":9.13,"y":-5.21},{"x":9.55,"y":-5.29},{"x":9.97,"y":-5.37},{"x":8.36,"y":-5.48},{"x":7.96,"y":-5.57},{"x":7.42,"y":-5.65},{"x":6.88,"y":-5.71},{"x":6.5,"y":-5.76},{"x":6.26,"y":-5.6},{"x":5.86,"y":-5.69},{"x":5.53,"y":-5.76},{"x":5.19,"y":-5.68},{"x":8.72,"y":-5.6},{"x":9.24,"y":-5.74},{"x":9.66,"y":-5.81},{"x":10.06,"y":-5.75},{"x":8.3,"y":-6.0},{"x":7.76,"y":-6.09},{"x":7.22,"y":-6.17},{"x":6.84,"y":-6.22},{"x":6.45,"y":-6.28},{"x":6.22,"y":-6.12},{"x":5.98,"y":-5.96},{"x":5.65,"y":-6.04},{"x":5.33,"y":-6.11},{"x":8.82,"y":-6.13},{"x":9.34,"y":-6.26},{"x":9.75,"y":-6.2},{"x":10.14,"y":-6.13},{"x":5.93,"y":-6.37},{"x":5.6,"y":-6.44},{"x":5.19,"y":-6.6},{"x":6.16,"y":-6.53},{"x":5.87,"y":-6.78},{"x":6.57,"y":-6.76},{"x":6.95,"y":-6.71},{"x":7.47,"y":-6.65},{"x":8.01,"y":-6.56},{"x":8.48,"y":-6.56},{"x":9.0,"y":-6.69},{"x":9.34,"y":-6.72},{"x":9.6,"y":-6.56},{"x":10.0,"y":-6.49},{"x":5.45,"y":-6.94},{"x":5.06,"y":-7.08},{"x":6.28,"y":-7.02},{"x":6.69,"y":-7.24},{"x":7.2,"y":-7.18},{"x":7.72,"y":-7.13},{"x":8.18,"y":-7.13},{"x":8.66,"y":-7.12},{"x":9.0,"y":-7.15},{"x":9.34,"y":-7.17},{"x":9.6,"y":-7.02},{"x":10.05,"y":-7.07},{"x":9.86,"y":-6.85},{"x":9.8,"y":-7.24},{"x":5.8,"y":-7.39},{"x":5.39,"y":-7.55},{"x":6.2,"y":-7.63},{"x":6.62,"y":-7.74},{"x":6.97,"y":-7.66},{"x":7.49,"y":-7.61},{"x":7.94,"y":-7.64},{"x":8.42,"y":-7.63},{"x":8.89,"y":-7.57},{"x":9.23,"y":-7.59},{"x":9.53,"y":-7.38},{"x":10.0,"y":-7.44},{"x":9.75,"y":-7.6},{"x":9.43,"y":-7.81},{"x":9.96,"y":-7.8},{"x":5.23,"y":-8.04},{"x":5.72,"y":-8.01},{"x":6.14,"y":-8.12},{"x":6.56,"y":-8.23},{"x":6.91,"y":-8.16},{"x":7.26,"y":-8.09},{"x":7.72,"y":-8.12},{"x":8.18,"y":-8.15},{"x":8.64,"y":-8.08},{"x":9.11,"y":-8.01},{"x":9.41,"y":-8.15},{"x":9.7,"y":-8.27},{"x":5.35,"y":-8.45},{"x":5.67,"y":-8.46},{"x":5.99,"y":-8.45},{"x":6.41,"y":-8.56},{"x":6.72,"y":-8.56},{"x":7.08,"y":-8.49},{"x":7.39,"y":-8.49},{"x":7.84,"y":-8.52},{"x":8.17,"y":-8.52},{"x":8.48,"y":-8.52},{"x":8.95,"y":-8.46},{"x":9.26,"y":-8.46},{"x":9.56,"y":-8.59},{"x":9.88,"y":-8.59}]
},
"resolve":{"axis":{"x":"independent","y":"independent"}},
"layer":[
{"data":{"name":"bedrock"},"mark":{"type":"rect","fill":"#7b7abe"},
"encoding":{"x":{"field":"x","type":"quantitative","scale":{"domain":[-15.99,10.18]},"axis":{"orient":"bottom","title":null,"grid":false,"labels":false,"domain":false,"tickSize":6,"tickWidth":2,"tickColor":"#555555","values":[-15.75,-15.5,-15.25,-15,-14.75,-14.5,-14.25,-14,-13.75,-13.5,-13.25,-13,-12.75,-12.5,-12.25,-12,-11.75,-11.5,-11.25,-11,-10.75,-10.5,-10.25,-10,-9.75,-9.5,-9.25,-9,-8.75,-8.5,-8.25,-8,-7.75,-7.5,-7.25,-7,-6.75,-6.5,-6.25,-6,-5.75,-5.5,-5.25,-5,-4.75,-4.5,-4.25,-4,-3.75,-3.5,-3.25,-3,-2.75,-2.5,-2.25,-2,-1.75,-1.5,-1.25,-1,-0.75,-0.5,-0.25,0,0.25,0.5,0.75,1,1.25,1.5,1.75,2,2.25,2.5,2.75,3,3.25,3.5,3.75,4,4.25,4.5,4.75,5,5.25,5.5,5.75,6,6.25,6.5,6.75,7,7.25,7.5,7.75,8,8.25,8.5,8.75,9,9.25,9.5,9.75,10]}},"x2":{"field":"x2"},
"y":{"field":"y","type":"quantitative","scale":{"domain":[-8.92,5.16]},"axis":{"orient":"left","title":null,"grid":false,"labels":false,"domain":false,"tickSize":10,"tickWidth":2,"tickColor":"#555555","values":[5,4.75,4.5,4.25,4,3.75,3.5,3.25,3,2.75,2.5,2.25,2,1.75,1.5,1.25,1,0.75,0.5,0.25,0,-0.25,-0.5,-0.75,-1,-1.25,-1.5,-1.75,-2,-2.25,-2.5,-2.75,-3,-3.25,-3.5,-3.75,-4,-4.25,-4.5,-4.75,-5,-5.25,-5.5,-5.75,-6,-6.25,-6.5,-6.75,-7,-7.25,-7.5,-7.75,-8,-8.25,-8.5,-8.75]}},"y2":{"field":"y2"}}},
{"data":{"name":"hatch"},"mark":{"type":"rule","stroke":"#cdcdfa","strokeWidth":2.1},
"encoding":{"x":{"field":"x","type":"quantitative","scale":{"domain":[-15.99,10.18]},"axis":{"orient":"bottom","title":null,"grid":false,"labels":false,"domain":false,"tickSize":13,"tickWidth":2,"tickColor":"#555555","values":[-13.75,-11.25,-8.75,-6.25,-3.75,-1.25,1.25,3.75,6.25,8.75]}},"x2":{"field":"x2"},
"y":{"field":"y","type":"quantitative","scale":{"domain":[-8.92,5.16]},"axis":{"orient":"left","title":null,"grid":false,"labels":false,"domain":false,"tickSize":15,"tickWidth":2,"tickColor":"#555555","values":[3.75,1.25,-1.25,-3.75,-6.25,-8.75]}},"y2":{"field":"y2"}}},
{"data":{"name":"hatchEdge"},"mark":{"type":"rule","stroke":"#c9c9fa","strokeWidth":2.4},
"encoding":{"x":{"field":"x","type":"quantitative","scale":{"domain":[-15.99,10.18]},"axis":{"orient":"bottom","title":null,"grid":false,"domain":true,"domainColor":"#555555","domainWidth":3,"tickSize":15,"tickWidth":2,"tickColor":"#555555","labelFont":"Liberation Sans","labelFontSize":24,"labelColor":"#444444","labelPadding":6,"labelOverlap":false,"labelFlush":false,"labelExpr":"''+datum.value","values":[-15,-12.5,-10,-7.5,-5,-2.5,0,2.5,5,7.5,10]}},"x2":{"field":"x2"},
"y":{"field":"y","type":"quantitative","scale":{"domain":[-8.92,5.16]},"axis":{"orient":"left","title":null,"grid":false,"domain":true,"domainColor":"#555555","domainWidth":3,"tickSize":20,"tickWidth":2,"tickColor":"#555555","labelFont":"Liberation Sans","labelFontSize":24,"labelColor":"#444444","labelPadding":0,"labelAngle":270,"labelAlign":"center","labelBaseline":"bottom","labelOverlap":false,"labelFlush":false,"labelExpr":"''+datum.value","values":[5,2.5,0,-2.5,-5,-7.5]}},"y2":{"field":"y2"}}},
{"data":{"name":"damFill"},"mark":{"type":"area","fill":"#bdbdbd"},
"encoding":{"x":{"field":"x","type":"quantitative","scale":{"domain":[-15.99,10.18]},"axis":null},"y":{"field":"y","type":"quantitative","scale":{"domain":[-8.92,5.16]},"axis":null},"y2":{"field":"y2"}}},
{"data":{"name":"damEdge"},"mark":{"type":"line","stroke":"#7f7f7f","strokeWidth":7,"strokeJoin":"round"},
"encoding":{"x":{"field":"x","type":"quantitative","scale":{"domain":[-15.99,10.18]},"axis":null},"y":{"field":"y","type":"quantitative","scale":{"domain":[-8.92,5.16]},"axis":null},"order":{"field":"o","type":"quantitative"}}},
{"data":{"name":"grayLines"},"mark":{"type":"rule","stroke":"#808080","strokeWidth":8},
"encoding":{"x":{"field":"x","type":"quantitative","scale":{"domain":[-15.99,10.18]},"axis":null},"x2":{"field":"x2"},"y":{"field":"y","type":"quantitative","scale":{"domain":[-8.92,5.16]},"axis":null},"y2":{"field":"y2"}}},
{"data":{"name":"grayLeft"},"mark":{"type":"rule","stroke":"#808080","strokeWidth":4},
"encoding":{"x":{"field":"x","type":"quantitative","scale":{"domain":[-15.99,10.18]},"axis":null},"x2":{"field":"x2"},"y":{"field":"y","type":"quantitative","scale":{"domain":[-8.92,5.16]},"axis":null},"y2":{"field":"y2"}}},
{"data":{"name":"blueLine"},"mark":{"type":"rule","stroke":"#0000ff","strokeWidth":8},
"encoding":{"x":{"field":"x","type":"quantitative","scale":{"domain":[-15.99,10.18]},"axis":null},"x2":{"field":"x2"},"y":{"field":"y","type":"quantitative","scale":{"domain":[-8.92,5.16]},"axis":null},"y2":{"field":"y2"}}},
{"data":{"name":"greenLine"},"mark":{"type":"rule","stroke":"#008000","strokeWidth":6.5},
"encoding":{"x":{"field":"x","type":"quantitative","scale":{"domain":[-15.99,10.18]},"axis":null},"x2":{"field":"x2"},"y":{"field":"y","type":"quantitative","scale":{"domain":[-8.92,5.16]},"axis":null},"y2":{"field":"y2"}}},
{"data":{"name":"dots"},"mark":{"type":"point","filled":true,"shape":"circle","size":14,"color":"#8c1a96","opacity":0.8},
"encoding":{"x":{"field":"x","type":"quantitative","scale":{"domain":[-15.99,10.18]},"axis":null},"y":{"field":"y","type":"quantitative","scale":{"domain":[-8.92,5.16]},"axis":null}}},
{"data":{"name":"vectors"},"mark":{"type":"rule","stroke":"#8a0a8a","strokeWidth":1.6,"opacity":0.95},
"encoding":{"x":{"field":"x","type":"quantitative","scale":{"domain":[-15.99,10.18]},"axis":null},"x2":{"field":"x2"},"y":{"field":"y","type":"quantitative","scale":{"domain":[-8.92,5.16]},"axis":null},"y2":{"field":"y2"}}},
{"data":{"name":"vectors"},"mark":{"type":"point","filled":true,"shape":"M0,0L-0.7,1.6L0,1.3L0.7,1.6Z","size":90,"color":"#8a0a8a","opacity":1},
"encoding":{"x":{"field":"x2","type":"quantitative","scale":{"domain":[-15.99,10.18]},"axis":null},"y":{"field":"y2","type":"quantitative","scale":{"domain":[-8.92,5.16]},"axis":null},"angle":{"field":"dir","type":"quantitative","scale":null}}},
{"data":{"name":"midArrows"},"mark":{"type":"rule","stroke":"#8a0a8a","strokeWidth":1.8},
"encoding":{"x":{"field":"x","type":"quantitative","scale":{"domain":[-15.99,10.18]},"axis":null},"x2":{"field":"x2"},"y":{"field":"y","type":"quantitative","scale":{"domain":[-8.92,5.16]},"axis":null},"y2":{"field":"y2"}}},
{"data":{"name":"midArrows"},"mark":{"type":"point","filled":true,"shape":"M0,0L-0.6,1.6L0,1.2L0.6,1.6Z","size":300,"color":"#8a0a8a","opacity":1},
"encoding":{"x":{"field":"x2","type":"quantitative","scale":{"domain":[-15.99,10.18]},"axis":null},"y":{"field":"y2","type":"quantitative","scale":{"domain":[-8.92,5.16]},"axis":null},"angle":{"field":"dir","type":"quantitative","scale":null}}},
{"data":{"name":"bigArrows"},"mark":{"type":"rule","stroke":"#8a0a8a","strokeWidth":2},
"encoding":{"x":{"field":"x","type":"quantitative","scale":{"domain":[-15.99,10.18]},"axis":null},"x2":{"field":"x2"},"y":{"field":"y","type":"quantitative","scale":{"domain":[-8.92,5.16]},"axis":null},"y2":{"field":"y2"}}},
{"data":{"name":"bigArrows"},"mark":{"type":"point","filled":true,"shape":"M0,0L-0.7,1.6L0,1.1L0.7,1.6Z","size":975,"color":"#8a0a8a","opacity":1},
"encoding":{"x":{"field":"x2","type":"quantitative","scale":{"domain":[-15.99,10.18]},"axis":null},"y":{"field":"y2","type":"quantitative","scale":{"domain":[-8.92,5.16]},"axis":null},"angle":{"field":"dir","type":"quantitative","scale":null}}},
{"data":{"name":"flowArrow"},"mark":{"type":"area","fill":"#ffffff","stroke":"#5f9f6f","strokeWidth":1.5},
"encoding":{"x":{"field":"x","type":"quantitative","scale":{"domain":[-15.99,10.18]},"axis":null},"y":{"field":"y","type":"quantitative","scale":{"domain":[-8.92,5.16]},"axis":null},"y2":{"field":"y2"}}},
{"data":{"name":"flowLabel"},"mark":{"type":"text","font":"Liberation Sans","fontSize":30,"color":"#0a8a3a","align":"left","baseline":"middle"},
"encoding":{"x":{"field":"x","type":"quantitative","scale":{"domain":[-15.99,10.18]},"axis":null},"y":{"field":"y","type":"quantitative","scale":{"domain":[-8.92,5.16]},"axis":null},"text":{"field":"label"}}},
{"data":{"name":"tableHead"},"mark":{"type":"rect","fill":"#dedede"},
"encoding":{"x":{"field":"x","type":"quantitative","scale":{"domain":[-15.99,10.18]},"axis":null},"x2":{"field":"x2"},"y":{"field":"y","type":"quantitative","scale":{"domain":[-8.92,5.16]},"axis":null},"y2":{"field":"y2"}}},
{"data":{"name":"tableBody"},"mark":{"type":"rect","fill":"#ffffff"},
"encoding":{"x":{"field":"x","type":"quantitative","scale":{"domain":[-15.99,10.18]},"axis":null},"x2":{"field":"x2"},"y":{"field":"y","type":"quantitative","scale":{"domain":[-8.92,5.16]},"axis":null},"y2":{"field":"y2"}}},
{"data":{"name":"tableLines"},"mark":{"type":"rule","stroke":"#333333","strokeWidth":2},
"encoding":{"x":{"field":"x","type":"quantitative","scale":{"domain":[-15.99,10.18]},"axis":null},"x2":{"field":"x2"},"y":{"field":"y","type":"quantitative","scale":{"domain":[-8.92,5.16]},"axis":null},"y2":{"field":"y2"}}},
{"data":{"name":"tableBox"},"mark":{"type":"rect","fillOpacity":0,"stroke":"#000000","strokeWidth":5},
"encoding":{"x":{"field":"x","type":"quantitative","scale":{"domain":[-15.99,10.18]},"axis":null},"x2":{"field":"x2"},"y":{"field":"y","type":"quantitative","scale":{"domain":[-8.92,5.16]},"axis":null},"y2":{"field":"y2"}}},
{"data":{"name":"swatchDam"},"mark":{"type":"rect","fill":"#bdbdbd","stroke":"#777777","strokeWidth":2},
"encoding":{"x":{"field":"x","type":"quantitative","scale":{"domain":[-15.99,10.18]},"axis":null},"x2":{"field":"x2"},"y":{"field":"y","type":"quantitative","scale":{"domain":[-8.92,5.16]},"axis":null},"y2":{"field":"y2"}}},
{"data":{"name":"swatchRock"},"mark":{"type":"rect","fill":"#7b7abe","stroke":"#4f4f8f","strokeWidth":2},
"encoding":{"x":{"field":"x","type":"quantitative","scale":{"domain":[-15.99,10.18]},"axis":null},"x2":{"field":"x2"},"y":{"field":"y","type":"quantitative","scale":{"domain":[-8.92,5.16]},"axis":null},"y2":{"field":"y2"}}},
{"data":{"name":"tableHeadText"},"mark":{"type":"text","font":"Lato","fontWeight":"bold","fontSize":27.5,"color":"#111111","align":"center","baseline":"middle"},
"encoding":{"x":{"field":"x","type":"quantitative","scale":{"domain":[-15.99,10.18]},"axis":null},"y":{"field":"y","type":"quantitative","scale":{"domain":[-8.92,5.16]},"axis":null},"text":{"field":"label"}}},
{"data":{"name":"tableBodyText"},"mark":{"type":"text","font":"Lato","fontSize":27,"color":"#222222","align":"center","baseline":"middle"},
"encoding":{"x":{"field":"x","type":"quantitative","scale":{"domain":[-15.99,10.18]},"axis":null},"y":{"field":"y","type":"quantitative","scale":{"domain":[-8.92,5.16]},"axis":null},"text":{"field":"label"}}},
{"data":{"name":"nodesBig"},"mark":{"type":"point","filled":true,"shape":"circle","fill":"#ffffff","stroke":"#5f9f6f","strokeWidth":2,"size":330,"opacity":1,"clip":true},
"encoding":{"x":{"field":"x","type":"quantitative","scale":{"domain":[-15.99,10.18]},"axis":null},"y":{"field":"y","type":"quantitative","scale":{"domain":[-8.92,5.16]},"axis":null}}},
{"data":{"name":"nodesSmall"},"mark":{"type":"point","filled":true,"shape":"circle","fill":"#ffffff","stroke":"#808080","strokeWidth":2.5,"size":80,"opacity":1},
"encoding":{"x":{"field":"x","type":"quantitative","scale":{"domain":[-15.99,10.18]},"axis":null},"y":{"field":"y","type":"quantitative","scale":{"domain":[-8.92,5.16]},"axis":null}}}
]}
